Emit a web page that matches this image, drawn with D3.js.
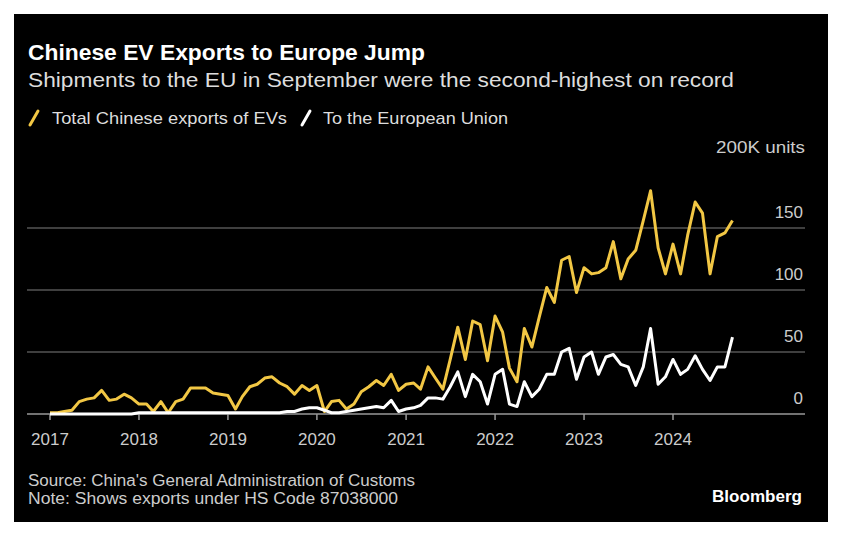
<!DOCTYPE html>
<html><head><meta charset="utf-8">
<script src="https://cdn.jsdelivr.net/npm/d3@7"></script>
<style>body{margin:0;background:#fff}svg{display:block}text{font-family:"Liberation Sans Narrow","Liberation Sans",Arial,sans-serif}</style>
</head><body><svg id="c" width="868" height="546"></svg>
<script>
const total=[1,1,2,3,10,12,13,19,11,12,16,13,8,8,2,10,1,10,12,21,21,21,17,16,15,4,14,22,24,29,30,25,22,16,23,19,23,2,10,11,4,8,18,22,27,23,32,19,24,25,20,38,29,20,44,70,44,75,72,43,79,66,37,26,69,54,78,102,90,124,127,98,118,113,114,118,139,109,125,132,156,180,134,113,137,113,144,171,162,113,143,146,156];
const eu=[0,0,0,0,0,0,0,0,0,0,0,0,1,1,1,1,1,1,1,1,1,1,1,1,1,1,1,1,1,1,1,1,2,2,4,5,5,3,1,1,2,3,4,5,6,5,11,2,4,5,7,13,13,12,22,34,14,32,26,8,32,36,8,6,26,14,20,32,32,50,53,28,46,50,32,46,48,40,38,23,38,69,24,30,44,32,36,47,36,27,38,38,62];
const yTicks=[0,50,100,150];
const yearTicks=[2017,2018,2019,2020,2021,2022,2023,2024];
const dates=total.map((d,i)=>new Date(2017,i,1));
const svg=d3.select("#c");
svg.append("rect").attr("x",14).attr("y",14).attr("width",814).attr("height",508).attr("fill","#000");
const x=d3.scaleTime().domain([new Date(2017,0,1),new Date(2024,0,1)]).range([50,673]);
const y=d3.scaleLinear().domain([0,200]).range([414,166]);
const L=27,R=805;
function T(xx,yy,s,o={}){const t=svg.append("text").attr("x",xx).attr("y",yy).attr("fill",o.fill||"#ccc").attr("font-size",o.size||17).attr("text-anchor",o.anchor||"start").text(s);if(o.bold)t.attr("font-weight","bold");if(o.len)t.attr("textLength",o.len).attr("lengthAdjust","spacingAndGlyphs");return t;}
yTicks.forEach(t=>{
 svg.append("line").attr("x1",L).attr("x2",R).attr("y1",y(t)).attr("y2",y(t)).attr("stroke",t==0?"#999":"#555").attr("stroke-width",1.5);
 T(803,y(t)-10,t,{anchor:"end"});
});
T(805,153,"200K units",{anchor:"end",len:89});
yearTicks.forEach(t=>{
 const xx=x(new Date(t,0,1));
 svg.append("line").attr("x1",xx).attr("x2",xx).attr("y1",414).attr("y2",420).attr("stroke","#999").attr("stroke-width",1.5);
 T(xx,445,t,{anchor:"middle"});
});
const line=d3.line().x((d,i)=>x(dates[i])).y(d=>y(d));
svg.append("path").attr("d",line(total)).attr("fill","none").attr("stroke","#f2c744").attr("stroke-width",3).attr("stroke-linejoin","round");
svg.append("path").attr("d",line(eu)).attr("fill","none").attr("stroke","#fff").attr("stroke-width",3).attr("stroke-linejoin","round");
T(28,60,"Chinese EV Exports to Europe Jump",{fill:"#fff",size:22,bold:true,len:397});
T(28,87,"Shipments to the EU in September were the second-highest on record",{fill:"#ddd",size:21,len:706});
const lg=[["#f2c744","Total Chinese exports of EVs",30,52,235],["#fff","To the European Union",302,323,185]];
lg.forEach(([c,t,xx,tx,w])=>{
 svg.append("line").attr("x1",xx).attr("x2",xx+8).attr("y1",125).attr("y2",111).attr("stroke",c).attr("stroke-width",3).attr("stroke-linecap","round");
 T(tx,124,t,{fill:"#ddd",size:17,len:w});
});
T(28,486,"Source: China's General Administration of Customs",{size:16,len:387});
T(28,504,"Note: Shows exports under HS Code 87038000",{size:16,len:370});
T(802,502,"Bloomberg",{fill:"#fff",size:17,bold:true,anchor:"end",len:90});
</script></body></html>
